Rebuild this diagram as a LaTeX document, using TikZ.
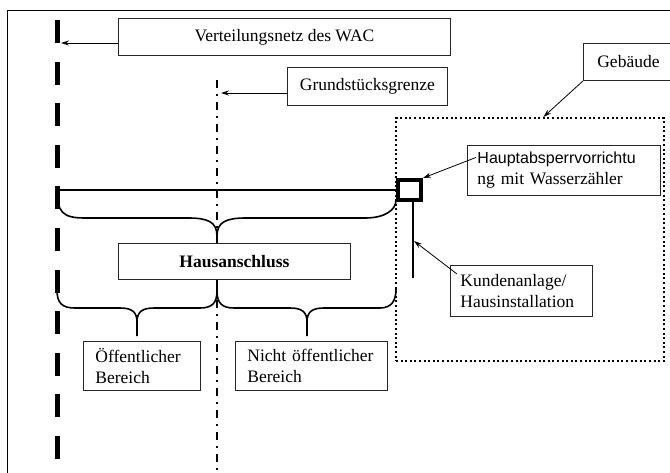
\documentclass[tikz,border=0pt]{standalone}
\usepackage{fontspec}
\setmainfont{Liberation Serif}
\newfontfamily\sansf{Liberation Sans}
\usetikzlibrary{arrows.meta,calc}
\begin{document}
\begin{tikzpicture}[x=1pt,y=-1pt,
  box/.style={draw=black!85, fill=white, line width=0.9pt, anchor=north west, inner sep=0pt,
    font=\fontsize{17.5}{21}\selectfont},
  lbox/.style={box, align=left, inner xsep=12pt},
  arr/.style={line width=0.8pt, -{Stealth[length=8pt,width=5pt]}},
  brace/.style={line width=1.6pt},
  netz/.style={line width=5pt, dash pattern=on 23pt off 18.6pt},
  grenze/.style={line width=2.5pt, dash pattern=on 8pt off 6pt on 2pt off 6pt},
  geb/.style={draw, line width=1.8pt, dash pattern=on 2pt off 2.6pt, anchor=north west, inner sep=0pt},
]
\useasboundingbox (0,0) rectangle (670,472);
\clip (0,0) rectangle (670,472);
% outer frame
\draw[line width=1pt] (7,480) -- (7,10) -- (680,10);
% lines
\draw[netz] (57,20) -- (57,480);
\draw[grenze] (217,80) -- (217,480);
% building
\node[geb, minimum width=268pt, minimum height=243pt] (bld) at (395,117) {};
% valve / meter
\node[draw, line width=4pt, inner sep=0pt, minimum width=23pt, minimum height=20pt] (hav) at (409.5,190) {};
\coordinate (pipeA) at (57,190);
\draw[line width=1.6pt] (pipeA) -- (hav.west);
\coordinate (inst) at (413,278);
\draw[line width=1.4pt] (hav.south -| inst) -- (inst);
% braces
\draw[brace] (57,188) .. controls (57,212) and (62,218) .. (85,218) -- (188,218)
  .. controls (208,218) and (217,222) .. (217,236)
  .. controls (217,222) and (226,218) .. (246,218) -- (365,218)
  .. controls (385,218) and (396,210) .. (396,200);
\draw[brace] (217,236) -- (217,243);
\draw[brace] (57,290) .. controls (57,303) and (62,308) .. (75,308) -- (120,308)
  .. controls (132,308) and (137,312) .. (137,322) -- (137,336);
\draw[brace] (137,322) .. controls (137,312) and (142,308) .. (154,308) -- (200,308)
  .. controls (212,308) and (217,303) .. (217,291);
\draw[brace] (217,291) .. controls (217,303) and (222,308) .. (234,308) -- (290,308)
  .. controls (302,308) and (307,312) .. (307,322) -- (307,336);
\draw[brace] (307,322) .. controls (307,312) and (312,308) .. (324,308) -- (380,308)
  .. controls (392,308) and (396,300) .. (396,289);
\draw[brace] (217,279) -- (217,291);
% boxes
\node[box, minimum width=332pt, minimum height=37pt] (vn) at (118,18) {Verteilungsnetz des WAC};
\node[box, minimum width=160pt, minimum height=38pt] (gg) at (287,67) {Grundstücksgrenze};
\node[box, minimum width=90pt, minimum height=37pt] (gb) at (583,43) {Gebäude};
\node[lbox, inner xsep=10pt, text width=173pt, minimum height=50pt] (hp) at (467,145)
  {{\sansf\fontsize{16}{21}\selectfont Hauptabsperrvorrichtu}\\ng mit Wasserzähler};
\node[lbox, inner xsep=10pt, text width=122pt, minimum height=51pt] (ku) at (450,265)
  {Kundenanlage/\\Hausinstallation};
\node[box, minimum width=232pt, minimum height=36pt, font=\fontsize{17.5}{21}\selectfont\bfseries] (ha) at (118,243) {Hausanschluss};
\node[lbox, text width=93pt, minimum height=49pt] (oe) at (83,341) {Öffentlicher\\Bereich};
\node[lbox, text width=128pt, minimum height=49pt] (no) at (235,341) {Nicht öffentlicher\\Bereich};
% arrows
\coordinate (vtip) at (61,43);
\draw[arr] (vn.west |- vtip) -- (vtip);
\coordinate (gtip) at (221,93);
\draw[arr] (gg.west |- gtip) -- (gtip);
\draw[arr] (gb.south west) -- ($(bld.north west)!0.55!(bld.north east)$);
\draw[arr] ([xshift=9pt,yshift=13pt]hp.west) -- (hav.north east);
\coordinate (ktip) at (414,241);
\draw[arr] ([xshift=7pt,yshift=-9pt]ku.north west) -- (ktip);
\end{tikzpicture}
\end{document}
